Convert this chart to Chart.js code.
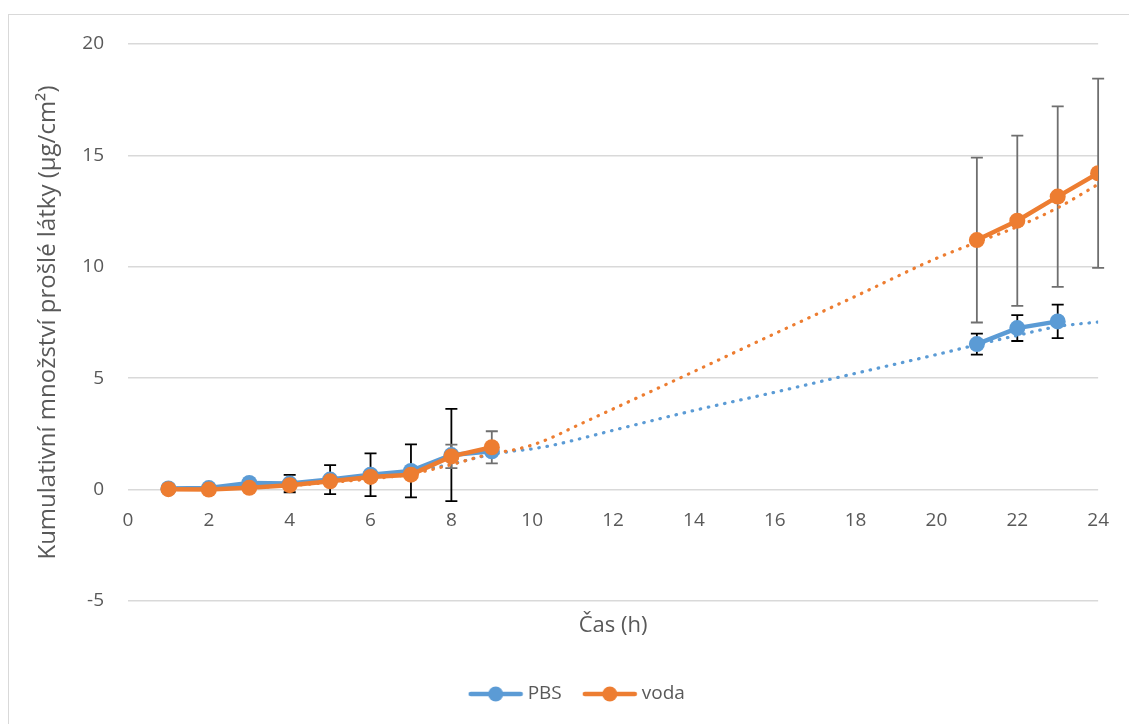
<!DOCTYPE html>
<html>
<head>
<meta charset="utf-8">
<script src="https://cdn.jsdelivr.net/npm/chart.js@4.4.1/dist/chart.umd.min.js"></script>
<style>
  html, body { margin: 0; padding: 0; background: #ffffff; }
  #wrap { position: relative; width: 1129px; height: 724px; overflow: hidden; }
  #frame { position: absolute; left: 8px; top: 14px; width: 1200px; height: 800px; border: 1px solid #d9d9d9; }
  #c { position: absolute; left: 0; top: 0; }
</style>
</head>
<body>
<div id="wrap">
  <div id="frame"></div>
  <canvas id="c" width="1129" height="724"></canvas>
</div>
<script>
// Sampling times (h) and cumulative permeated amount (µg/cm²)
const hours   = [1, 2, 3, 4, 5, 6, 7, 8, 9, 21, 22, 23, 24];
const pbs     = [0.05, 0.07, 0.30, 0.27, 0.45, 0.67, 0.84, 1.55, 1.72, 6.53, 7.25, 7.55, null];
const pbsErr  = [0.05, 0.05, 0.10, 0.39, 0.65, 0.96, 1.19, 2.07, 0.15, 0.47, 0.58, 0.75, null];
const voda    = [0.02, 0.00, 0.08, 0.20, 0.37, 0.57, 0.67, 1.49, 1.90, 11.20, 12.07, 13.15, 14.20];
const vodaErr = [0.05, 0.05, 0.05, 0.08, 0.10, 0.10, 0.10, 0.53, 0.72, 3.70, 3.82, 4.05, 4.25];

// Trend curves (dotted)
const trendHours = [1, 2, 3, 4, 5, 6, 7, 8, 9, 9.5, 10, 10.5, 11, 12, 14, 16, 18, 20, 21, 22, 23, 24];
const pbsTrend   = [0.05, 0.08, 0.15, 0.25, 0.40, 0.56, 0.78, 1.15, 1.58, 1.72, 1.83, 1.99, 2.20, 2.66, 3.55, 4.37, 5.22, 6.06, 6.50, 6.92, 7.32, 7.52];
const vodaTrend  = [0.00, 0.02, 0.08, 0.18, 0.32, 0.48, 0.70, 1.12, 1.62, 1.77, 2.00, 2.35, 2.78, 3.62, 5.30, 7.00, 8.68, 10.38, 11.10, 11.80, 12.65, 13.70];

// Axis ranges
const xRange = { min: 0, max: 24, step: 2 };
const yRange = { min: -5, max: 20, step: 5 };

const seriesNames = ['PBS', 'voda'];
const blue = '#5B9BD5';
const orange = '#ED7D31';
const textGrey = '#595959';
const FONT = "'Open Sans', sans-serif";

const toPoints = (xs, ys) => xs.map((x, i) => ({ x: x, y: ys[i] }));

// Break the solid line across the long unsampled interval
const gapSegment = {
  borderColor: ctx => (ctx.p1.parsed.x - ctx.p0.parsed.x > 1 ? 'rgba(0,0,0,0)' : undefined)
};

// Legend icon: short line with a marker in the middle
function legendIcon(color) {
  const cv = document.createElement('canvas');
  cv.width = 56; cv.height = 18;
  const g = cv.getContext('2d');
  g.strokeStyle = color; g.lineWidth = 4.5; g.lineCap = 'round';
  g.beginPath(); g.moveTo(3, 9); g.lineTo(53, 9); g.stroke();
  g.fillStyle = color;
  g.beginPath(); g.arc(28, 9, 7.5, 0, Math.PI * 2); g.fill();
  return cv;
}

// Vertical error bars with caps, drawn beneath the series
const errorBars = {
  id: 'errorBars',
  beforeDatasetsDraw(chart) {
    const { ctx, scales: { x, y } } = chart;
    const sets = [
      { vals: pbs, errs: pbsErr, color: '#000000' },
      { vals: voda, errs: vodaErr, color: '#6f6f6f' }
    ];
    ctx.save();
    ctx.lineWidth = 1.8;
    sets.forEach(s => {
      ctx.strokeStyle = s.color;
      hours.forEach((h, i) => {
        const v = s.vals[i], e = s.errs[i];
        if (v == null || e == null) return;
        const px = x.getPixelForValue(h);
        const top = y.getPixelForValue(v + e);
        const bot = y.getPixelForValue(v - e);
        ctx.beginPath();
        ctx.moveTo(px, top); ctx.lineTo(px, bot);
        ctx.moveTo(px - 6, top); ctx.lineTo(px + 6, top);
        ctx.moveTo(px - 6, bot); ctx.lineTo(px + 6, bot);
        ctx.stroke();
      });
    });
    ctx.restore();
  }
};

const mainStyle = (color) => ({
  borderColor: color,
  backgroundColor: color,
  pointBackgroundColor: color,
  pointBorderColor: color,
  borderWidth: 4.5,
  pointRadius: 8,
  pointBorderWidth: 0,
  pointHoverRadius: 8,
  tension: 0,
  spanGaps: false,
  segment: gapSegment
});

const trendStyle = (color) => ({
  borderColor: color,
  backgroundColor: color,
  borderWidth: 3.2,
  borderDash: [0.5, 7.8],
  borderCapStyle: 'round',
  pointRadius: 0,
  pointHoverRadius: 0,
  cubicInterpolationMode: 'monotone'
});

new Chart(document.getElementById('c'), {
  type: 'line',
  data: {
    datasets: [
      Object.assign({ label: seriesNames[0], data: toPoints(hours, pbs), order: 1 }, mainStyle(blue)),
      Object.assign({ label: seriesNames[1], data: toPoints(hours, voda), order: 0 }, mainStyle(orange)),
      Object.assign({ label: 'trend PBS', data: toPoints(trendHours, pbsTrend), order: 3 }, trendStyle(blue)),
      Object.assign({ label: 'trend voda', data: toPoints(trendHours, vodaTrend), order: 2 }, trendStyle(orange))
    ]
  },
  options: {
    responsive: false,
    animation: false,
    layout: { padding: { left: 55, right: 26, top: 44, bottom: 10.5 } },
    scales: {
      x: {
        type: 'linear',
        position: { y: 0 },
        min: xRange.min, max: xRange.max,
        grid: { display: false, drawTicks: false },
        border: { display: false },
        ticks: { stepSize: xRange.step, padding: 20, color: textGrey, font: { family: FONT, size: 19 } }
      },
      x2: {
        type: 'linear',
        position: 'bottom',
        min: xRange.min, max: xRange.max,
        grid: { display: false, drawTicks: false },
        border: { display: false },
        ticks: { display: false },
        title: {
          display: true, text: 'Čas (h)', color: textGrey,
          font: { family: FONT, size: 22 }, padding: { top: 0, bottom: 19.8 }
        },
        afterFit: (scale) => { scale.height = 58; }
      },
      y: {
        type: 'linear',
        position: 'left',
        min: yRange.min, max: yRange.max,
        grid: { color: '#d9d9d9', lineWidth: 1.5, drawTicks: false },
        border: { display: false },
        ticks: { stepSize: yRange.step, padding: 24, color: textGrey, font: { family: FONT, size: 19 } },
        title: {
          display: true, text: 'Kumulativní množství prošlé látky (µg/cm²)', color: textGrey,
          font: { family: FONT, size: 24 }, padding: { top: -21.4, bottom: 0 }
        },
        afterFit: (scale) => { scale.width = 73; }
      }
    },
    plugins: {
      tooltip: { enabled: false },
      legend: {
        position: 'bottom',
        labels: {
          usePointStyle: true,
          pointStyleWidth: 45,
          padding: 25.5,
          color: textGrey,
          font: { family: FONT, size: 19 },
          generateLabels: (chart) => [0, 1].map(i => ({
            text: chart.data.datasets[i].label,
            pointStyle: legendIcon(chart.data.datasets[i].borderColor),
            datasetIndex: i,
            fontColor: textGrey,
            hidden: false,
            lineWidth: 0,
            strokeStyle: 'rgba(0,0,0,0)',
            fillStyle: 'rgba(0,0,0,0)'
          }))
        }
      }
    }
  },
  plugins: [errorBars]
});
</script>
</body>
</html>
